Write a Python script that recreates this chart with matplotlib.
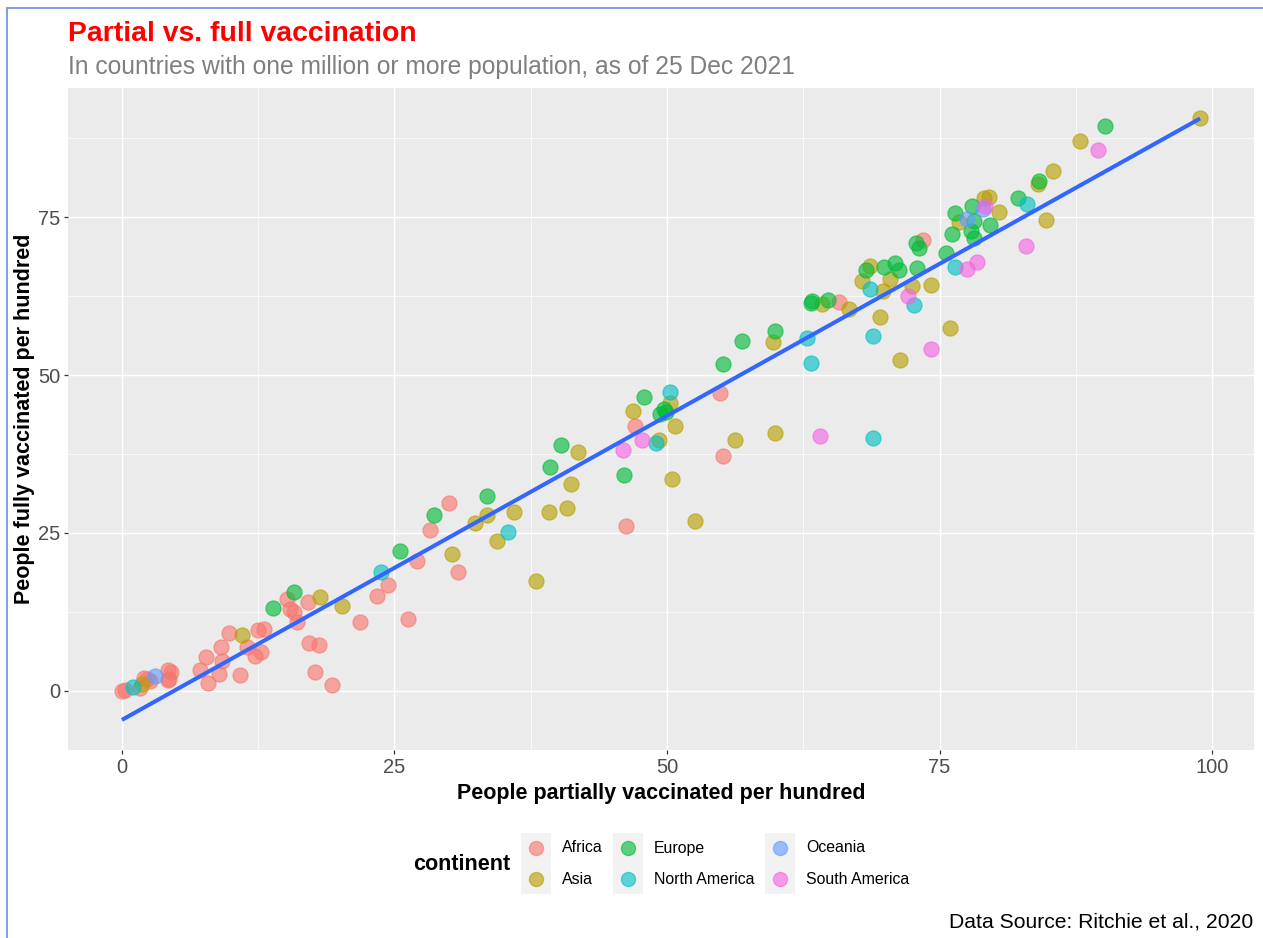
import numpy as np
import matplotlib
matplotlib.use("Agg")
import matplotlib.pyplot as plt
from matplotlib.patches import Rectangle
from matplotlib.lines import Line2D

plt.rcParams['font.family'] = ['Liberation Sans', 'DejaVu Sans']

# People partially / fully vaccinated per hundred, by continent
africa_x = [0.0, 0.3, 1.7, 2.0, 2.6, 2.3, 4.2, 4.5, 4.2, 4.3, 7.2, 7.7, 7.9, 8.9, 9.2, 9.1,
            9.8, 10.8, 11.5, 12.2, 12.8, 12.5, 13.0, 15.1, 15.4, 15.8, 16.1, 17.1, 17.2,
            18.1, 17.7, 19.3, 21.8, 23.4, 24.4, 26.2, 27.1, 28.3, 30.0, 30.8, 46.2, 47.1,
            54.9, 55.1, 65.8, 73.5]
africa_y = [0.0, 0.1, 0.5, 2.0, 1.6, 1.9, 3.3, 3.0, 1.7, 1.9, 3.3, 5.4, 1.3, 2.7, 4.7, 7.0,
            9.2, 2.5, 7.0, 5.5, 6.2, 9.7, 9.8, 14.6, 13.0, 12.5, 10.9, 14.1, 7.6,
            7.3, 3.0, 0.9, 10.9, 15.0, 16.8, 11.4, 20.6, 25.5, 29.7, 18.8, 26.1, 41.9,
            47.2, 37.2, 61.5, 71.4]

asia_x = [1.8, 11.0, 18.2, 20.2, 30.3, 32.4, 33.5, 34.4, 36.0, 38.0, 39.2, 40.8, 41.2,
          41.8, 46.9, 49.3, 50.3, 50.7, 50.5, 52.6, 56.2, 59.7, 59.9, 64.2, 66.7, 67.9,
          68.6, 69.5, 69.8, 70.5, 71.4, 72.5, 74.2, 76.0, 76.8, 79.1, 79.5, 80.5, 84.0,
          84.8, 85.4, 87.9, 98.9]
asia_y = [1.1, 8.9, 14.9, 13.4, 21.7, 26.6, 27.8, 23.7, 28.3, 17.4, 28.3, 29.0, 32.8,
          37.8, 44.3, 39.7, 45.5, 42.0, 33.5, 26.9, 39.7, 55.2, 40.8, 61.2, 60.4, 64.9,
          67.2, 59.2, 63.3, 65.2, 52.4, 64.1, 64.2, 57.4, 74.2, 78.0, 78.2, 75.8, 80.2,
          74.5, 82.3, 87.0, 90.7]

europe_x = [13.9, 15.8, 25.5, 28.6, 33.5, 39.3, 40.3, 46.1, 47.9, 49.4, 49.7, 49.9, 55.1,
            56.9, 59.9, 63.3, 63.2, 64.8, 68.3, 69.9, 70.9, 71.3, 72.9, 72.8, 73.1, 75.6,
            76.1, 76.4, 77.9, 78.0, 78.2, 78.2, 79.6, 82.2, 84.1, 90.2]
europe_y = [13.1, 15.7, 22.2, 27.8, 30.9, 35.4, 38.9, 34.2, 46.5, 43.8, 44.6, 44.2, 51.8,
            55.4, 57.0, 61.7, 61.4, 61.9, 66.6, 67.1, 67.7, 66.6, 66.9, 70.9, 70.1, 69.3,
            72.3, 75.6, 72.8, 76.7, 74.4, 71.7, 73.7, 78.0, 80.7, 89.4]

namerica_x = [1.0, 23.8, 35.4, 49.0, 50.3, 62.8, 63.2, 68.6, 68.9, 68.9, 72.7, 76.4, 83.0]
namerica_y = [0.6, 18.8, 25.2, 39.2, 47.3, 55.8, 51.9, 63.6, 56.2, 40.0, 61.1, 67.1, 77.1]

oceania_x = [3.0, 77.5, 79.0]
oceania_y = [2.4, 74.7, 76.3]

samerica_x = [46.0, 47.7, 64.0, 72.1, 74.2, 77.5, 78.4, 79.2, 82.9, 89.5]
samerica_y = [38.1, 39.7, 40.3, 62.5, 54.1, 66.8, 67.9, 76.7, 70.4, 85.6]

continents = ["Africa", "Asia", "Europe", "North America", "Oceania", "South America"]
series_x = [africa_x, asia_x, europe_x, namerica_x, oceania_x, samerica_x]
series_y = [africa_y, asia_y, europe_y, namerica_y, oceania_y, samerica_y]
palette = ["#F8766D", "#B79F00", "#00BA38", "#00BFC4", "#619CFF", "#F564E3"]

x_ticks = [0, 25, 50, 75, 100]
y_ticks = [0, 25, 50, 75]

W, H = 1263, 938
fig = plt.figure(figsize=(W / 100, H / 100), dpi=100)
fig.patch.set_facecolor("white")

def fx(px):
    return px / W

def fy(py):
    return 1 - py / H

# panel
pl, pr, pt, pb = 68, 1254, 88, 750
ax = fig.add_axes([fx(pl), fy(pb), fx(pr - pl), (pb - pt) / H])
ax.set_facecolor("#EBEBEB")
for s in ax.spines.values():
    s.set_visible(False)

all_x = np.concatenate([np.array(v, float) for v in series_x])
all_y = np.concatenate([np.array(v, float) for v in series_y])

for xs, ys, col in zip(series_x, series_y, palette):
    ax.scatter(xs, ys, s=118, color=col, alpha=0.62, edgecolors=col,
               linewidths=0.9, zorder=3)

# linear fit
slope, intercept = np.polyfit(all_x, all_y, 1)
lx = np.linspace(all_x.min(), all_x.max(), 50)
ly = slope * lx + intercept
ax.plot(lx, ly, color="#3366FF", lw=2.9, zorder=4, solid_capstyle="butt")

xmin, xmax = all_x.min(), all_x.max()
ymin, ymax = min(all_y.min(), ly.min()), max(all_y.max(), ly.max())
ax.set_xlim(xmin - 0.05 * (xmax - xmin), xmax + 0.05 * (xmax - xmin))
ax.set_ylim(ymin - 0.05 * (ymax - ymin), ymax + 0.05 * (ymax - ymin))

ax.set_xticks(x_ticks)
ax.set_yticks(y_ticks)
ax.set_xticks([12.5, 37.5, 62.5, 87.5], minor=True)
ax.set_yticks([12.5, 37.5, 62.5, 87.5], minor=True)
ax.grid(which="major", color="white", lw=1.05, zorder=0)
ax.grid(which="minor", color="white", lw=0.5, zorder=0)
ax.set_axisbelow(True)
ax.tick_params(which="major", length=3.2, width=0.9, color="#333333",
               labelcolor="#4D4D4D", labelsize=14.5, pad=2.5)
ax.tick_params(which="minor", length=0)

fig.text(fx((pl + pr) / 2), fy(799), "People partially vaccinated per hundred",
         fontsize=15.5, fontweight="bold", ha="center", va="baseline")
fig.text(fx(25), fy((pt + pb) / 2), "People fully vaccinated per hundred",
         rotation=90, ha="center", va="center", fontsize=15.5, fontweight="bold")

# title block
fig.text(fx(68), fy(41), "Partial vs. full vaccination", color="red",
         fontsize=20.4, fontweight="bold", ha="left", va="baseline")
fig.text(fx(68), fy(74), "In countries with one million or more population, as of 25 Dec 2021",
         color="#7F7F7F", fontsize=17.7, ha="left", va="baseline")
fig.text(fx(1253), fy(927), "Data Source: Ritchie et al., 2020", fontsize=15.2,
         ha="right", va="baseline")

# overlay in pixel coordinates for legend and frame
ov = fig.add_axes([0, 0, 1, 1], zorder=-1)
ov.set_xlim(0, W)
ov.set_ylim(H, 0)
ov.axis("off")

ov.text(413, 864, "continent", fontsize=15.5, fontweight="bold", ha="left", va="center")
col_x = [521, 613, 765]
row_y = [848, 879]
for ci, cx in enumerate(col_x):
    ov.add_patch(Rectangle((cx, 833), 30, 61, facecolor="#F2F2F2", edgecolor="none"))
    for ri, ry in enumerate(row_y):
        k = ci * 2 + ri
        ov.scatter([cx + 15], [ry], s=104, color=palette[k], alpha=0.62,
                   edgecolors=palette[k], linewidths=0.9)
        ov.text(cx + 41, ry, continents[k], fontsize=11.4, ha="left", va="center")

ov.add_line(Line2D([7, 7], [8, H], color="#7B9FE8", lw=1.4))
ov.add_line(Line2D([7, W], [8, 8], color="#7B9FE8", lw=1.4))

fig.savefig("out.png", dpi=100)
